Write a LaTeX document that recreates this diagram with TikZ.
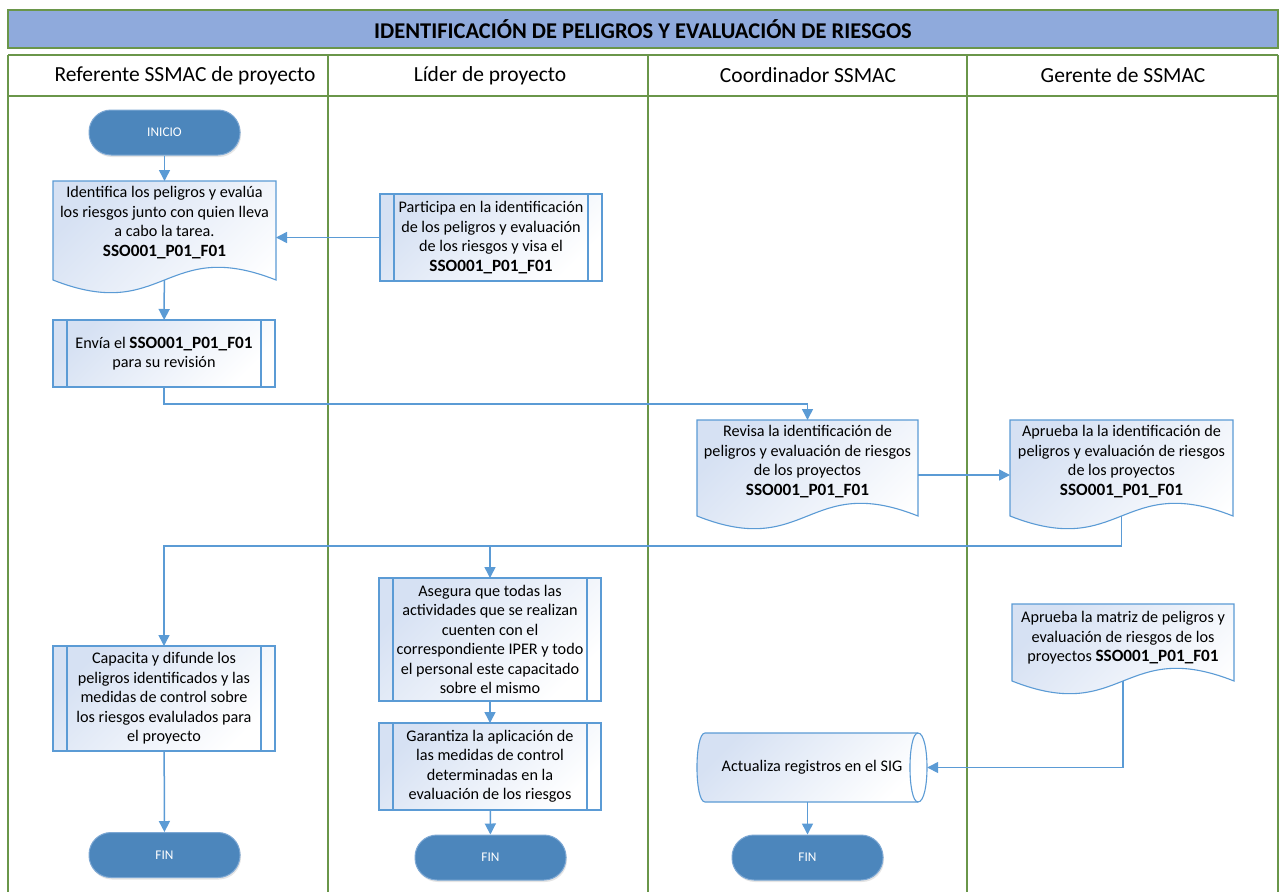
\documentclass[tikz,border=0pt]{standalone}
\usepackage{fontspec}
\setmainfont{Carlito}
\usetikzlibrary{arrows.meta,calc,shadows}
\definecolor{titlefill}{RGB}{143,170,220}
\definecolor{lanegreen}{RGB}{106,150,74}
\definecolor{boxblue}{RGB}{91,155,213}
\definecolor{termfill}{RGB}{76,134,188}
\definecolor{termedge}{RGB}{125,168,212}
\definecolor{shadefill}{RGB}{214,225,243}
\newcommand\idf{{\fontsize{17.2}{19.5}\selectfont\bfseries SSO001\_P01\_F01}}
\tikzset{
  lane/.style={draw=lanegreen, line width=1.4pt},
  shapefill/.style={draw=boxblue, line width=1.1pt, top color=shadefill, bottom color=white, shading angle=45},
  boxline/.style={draw=boxblue, line width=1.1pt},
  procbox/.style={shapefill, rectangle, inner sep=0pt, outer sep=0pt, align=center,
     font=\fontsize{16.2}{19.5}\selectfont},
  txt/.style={inner sep=0pt, align=center, font=\fontsize{16.2}{19.5}\selectfont},
  hdr/.style={inner sep=0pt, font=\fontsize{21.5}{24}\selectfont},
  arr/.style={draw=boxblue, line width=1.5pt, -{Triangle[length=11pt,width=11pt]}},
  term/.style={rectangle, rounded corners=22pt, fill=termfill, draw=termedge, line width=1pt,
     text=white, font=\fontsize{13.3}{15}\selectfont, minimum width=151pt, minimum height=45pt,
     drop shadow={opacity=0.2, shadow xshift=1pt, shadow yshift=-2pt}},
}
\newcommand\procnode[6]{%
  \pgfmathsetmacro\pw{#4-#2}\pgfmathsetmacro\ph{#5-#3}%
  \node[procbox, minimum width=\pw pt, minimum height=\ph pt] (#1) at ({(#2+#4)/2},{(#3+#5)/2}) {#6};
  \draw[boxline] ([xshift=14pt]#1.north west) -- ([xshift=14pt]#1.south west);
  \draw[boxline] ([xshift=-14pt]#1.north east) -- ([xshift=-14pt]#1.south east);
}
\newcommand\docnode[7]{%
  \path[shapefill] (#2,#3) -- (#4,#3) -- (#4,#5) .. controls ({(#2+#4)/2},{#5-44}) and ({(#2+#4)/2},{#5+44}) .. (#2,#5) -- cycle;
  \pgfmathsetmacro\pw{#4-#2}\pgfmathsetmacro\ph{#5-#3}%
  \node[inner sep=0pt, outer sep=0pt, minimum width=\pw pt, minimum height=\ph pt] (#1) at ({(#2+#4)/2},{(#3+#5)/2}) {};
  \node[txt] (#1t) at ($(#1.center)+(0,#6)$) {#7};
}
\begin{document}
\begin{tikzpicture}[x=1pt,y=-1pt]
\useasboundingbox (0,0) rectangle (1284,891);
\fill[white] (0,0) rectangle (1284,891);

% title
\node[draw=lanegreen, fill=titlefill, line width=1.4pt, minimum width=1270pt, minimum height=38pt,
      inner sep=0pt, font=\bfseries\fontsize{22.5}{25}\selectfont] (title) at (643,29)
      {IDENTIFICACIÓN DE PELIGROS Y EVALUACIÓN DE RIESGOS};

% lanes
\draw[lane] (8,55) -- (1278,55);
\draw[lane] (8,96) -- (1278,96);
\foreach \lx in {8,328,648,967,1278} { \draw[lane] (\lx,55) -- (\lx,895); }
\node[hdr] (h1) at (185,75.5) {Referente SSMAC de proyecto};
\node[hdr] (h2) at (490,75.5) {Líder de proyecto};
\node[hdr] (h3) at (808,75.5) {Coordinador SSMAC};
\node[hdr] (h4) at (1123,75.5) {Gerente de SSMAC};

% terminals
\node[term] (ini) at (164.5,132.5) {INICIO};
\node[term] (fin1) at (164.5,855) {FIN};
\node[term] (fin2) at (490.5,857.5) {FIN};
\node[term] (fin3) at (807.5,857.5) {FIN};

% documents
\docnode{doc1}{53}{181}{276}{280}{-8}{Identifica los peligros y evalúa\\los riesgos junto con quien lleva\\a cabo la tarea.\\\idf}
\docnode{rev}{697}{420}{918}{516}{-6.5}{Revisa la identificación de\\peligros y evaluación de riesgos\\de los proyectos\\\idf}
\docnode{ap1}{1010}{420}{1233}{516}{-6.5}{Aprueba la la identificación de\\peligros y evaluación de riesgos\\de los proyectos\\\idf}
\docnode{apm}{1012}{604}{1234}{681}{-4.5}{Aprueba la matriz de peligros y\\evaluación de riesgos de los\\proyectos \idf}

% processes
\procnode{par}{380}{194}{602}{281}{Participa en la identificación\\de los peligros y evaluación\\de los riesgos y visa el\\\idf}
\procnode{env}{53}{320}{275}{387}{Envía el \idf\\para su revisión}
\procnode{cap}{53}{646}{275}{751}{Capacita y difunde los\\peligros identificados y las\\medidas de control sobre\\los riesgos evalulados para\\el proyecto}
\procnode{ase}{379}{578}{601}{701}{Asegura que todas las\\actividades que se realizan\\cuenten con el\\correspondiente IPER y todo\\el personal este capacitado\\sobre el mismo}
\procnode{gar}{379}{723}{601}{810}{Garantiza la aplicación de\\las medidas de control\\determinadas en la\\evaluación de los riesgos}

% stored data
\path[shapefill] (705,733) -- (918,733) .. controls (930,733) and (930,802) .. (918,802)
   -- (705,802) .. controls (694.3,802) and (694.3,733) .. (705,733) -- cycle;
\draw[boxline] (918,733) .. controls (907.3,733) and (907.3,802) .. (918,802);
\node[inner sep=0pt, minimum width=230pt, minimum height=69pt, font=\fontsize{16.2}{19.5}\selectfont] (sig) at (812,767.5) {Actualiza registros en el SIG};

% connectors
\coordinate (busy) at (0,546);
\draw[arr] (ini) -- (doc1);
\draw[arr] (par) -- (doc1.east |- par);
\draw[arr] (doc1) -- (env);
\draw[arr] (env.south) -- ++(0,17) -| (rev.north);
\draw[arr] ([yshift=-7pt]rev.east) -- ([yshift=-7pt]ap1.west);
\draw[arr] (ap1.south) -- (ap1.south |- busy) -| (cap.north);
\draw[arr] (ase.north |- busy) -- (ase.north);
\draw[arr] (ase) -- (gar);
\draw[arr] (gar) -- (fin2);
\draw[arr] (cap) -- (fin1);
\draw[arr] (apm.south) |- (sig.east);
\draw[arr] (sig.south -| fin3.north) -- (fin3.north);
\end{tikzpicture}
\end{document}
